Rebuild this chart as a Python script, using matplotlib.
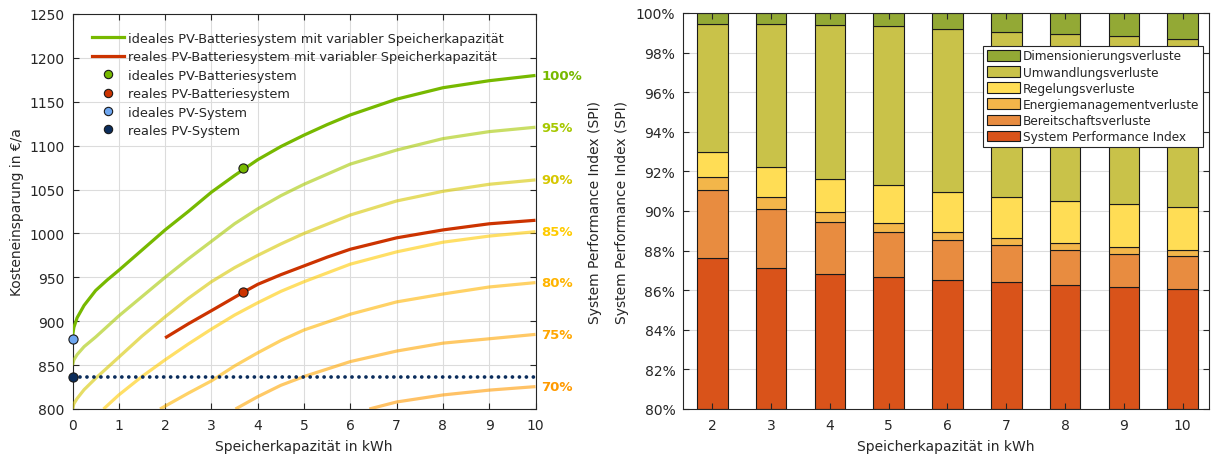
import matplotlib
matplotlib.use("Agg")
import matplotlib.pyplot as plt
from matplotlib.ticker import FuncFormatter
from matplotlib.patches import Patch
from matplotlib.lines import Line2D

plt.rcParams['font.family'] = ['DejaVu Sans']
AX = '#262626'

# ---------------- data: left chart ----------------
kap_100 = [0, 0.03, 0.1, 0.25, 0.5, 0.75, 1, 1.5, 2, 2.5, 3, 3.5, 4, 4.5, 5, 5.5, 6, 7, 8, 9, 10]
spar_100 = [883, 893, 904, 918, 935, 947, 958, 981, 1004, 1025, 1047, 1066, 1084, 1099, 1112, 1124, 1135, 1153, 1166, 1174, 1180]
kap_95 = [0, 0.03, 0.1, 0.25, 0.5, 1, 1.5, 2, 2.5, 3, 3.5, 4, 4.5, 5, 6, 7, 8, 9, 10]
spar_95 = [850, 856, 862, 871, 882, 906, 928, 950, 971, 991, 1011, 1028, 1043, 1056, 1079, 1095, 1108, 1116, 1121]
kap_90 = [0, 0.03, 0.1, 0.25, 0.5, 1, 1.5, 2, 2.5, 3, 3.5, 4, 4.5, 5, 6, 7, 8, 9, 10]
spar_90 = [800, 806, 812, 822, 835, 859, 883, 905, 926, 945, 961, 975, 988, 1000, 1021, 1037, 1048, 1056, 1061]
kap_85 = [0.67, 1, 1.5, 2, 2.5, 3, 3.5, 4, 4.5, 5, 6, 7, 8, 9, 10]
spar_85 = [800, 816, 837, 856, 874, 891, 907, 921, 934, 945, 965, 979, 990, 997, 1002]
kap_80 = [1.89, 2.5, 3, 3.5, 4, 4.5, 5, 6, 7, 8, 9, 10]
spar_80 = [800, 818, 832, 849, 864, 878, 890, 908, 922, 931, 939, 944]
kap_75 = [3.52, 4, 4.5, 5, 6, 7, 8, 9, 10]
spar_75 = [800, 814, 827, 837, 854, 866, 875, 880, 885]
kap_70 = [6.41, 7, 8, 9, 10]
spar_70 = [800, 808, 816, 821.5, 825.5]

kap_real = [2, 2.5, 3, 3.69, 4, 4.5, 5, 5.5, 6, 7, 8, 9, 10]
spar_real = [881, 897, 912, 933, 942, 953, 963, 973, 982, 995, 1004, 1011, 1015]

spi_labels = ['100%', '95%', '90%', '85%', '80%', '75%', '70%']
spi_colors = ['#77b900', '#a6c800', '#d6c700', '#ffcb00', '#ffb400', '#ffa600', '#ff9a00']

pt_ideal_batt = (3.69, 1074)
pt_real_batt = (3.69, 933.5)
pt_ideal_pv = (0, 880)
pt_real_pv = (0, 836.5)

# ---------------- data: right chart ----------------
kapazitaet = [2, 3, 4, 5, 6, 7, 8, 9, 10]
spi = [87.64, 87.14, 86.84, 86.67, 86.52, 86.40, 86.26, 86.16, 86.06]
top_bereitschaft = [91.04, 90.12, 89.43, 88.96, 88.55, 88.27, 88.02, 87.85, 87.71]
top_energiemgmt = [91.73, 90.71, 89.93, 89.41, 88.96, 88.62, 88.37, 88.16, 88.01]
top_regelung = [92.97, 92.22, 91.63, 91.29, 90.97, 90.72, 90.50, 90.34, 90.22]
top_umwandlung = [99.43, 99.43, 99.39, 99.33, 99.19, 99.04, 98.94, 98.82, 98.71]
top_dimension = [100, 100, 100, 100, 100, 100, 100, 100, 100]

seg_names = ['System Performance Index', 'Bereitschaftsverluste', 'Energiemanagementverluste',
             'Regelungsverluste', 'Umwandlungsverluste', 'Dimensionierungsverluste']
seg_colors = ['#d9531a', '#e88c40', '#f3b64a', '#ffdd55', '#c9c249', '#93a935']

# ---------------- figure ----------------
fig = plt.figure(figsize=(12.11, 4.56), dpi=100)
axL = fig.add_axes([72.5 / 1211, 46 / 456, 463 / 1211, 395 / 456])
axR = fig.add_axes([683 / 1211, 46 / 456, 526 / 1211, 396 / 456])

def style(ax):
    for s in ax.spines.values():
        s.set_color(AX)
        s.set_linewidth(0.8)
    ax.tick_params(direction='in', top=True, right=True, length=4, width=0.8,
                   colors=AX, labelsize=10, labelcolor=AX)
    ax.tick_params(axis='x', pad=6.5)
    ax.tick_params(axis='y', pad=5.5)

# left
style(axL)
axL.set_xlim(0, 10)
axL.set_ylim(800, 1250)
axL.set_xticks(range(0, 11))
axL.set_yticks(range(800, 1251, 50))
axL.grid(True, color='#dcdcdc', lw=0.8)
axL.set_axisbelow(True)

curves = [(kap_100, spar_100), (kap_95, spar_95), (kap_90, spar_90), (kap_85, spar_85),
          (kap_80, spar_80), (kap_75, spar_75), (kap_70, spar_70)]
for i, ((xs, ys), lab, col) in enumerate(zip(curves, spi_labels, spi_colors)):
    if i == 0:
        axL.plot(xs, ys, color=col, lw=2.3, solid_capstyle='butt', solid_joinstyle='round', zorder=4)
    else:
        axL.plot(xs, ys, color=col, lw=2.3, alpha=0.6, solid_capstyle='butt', solid_joinstyle='round', zorder=3)
    axL.text(1.013, (ys[-1] - 800) / 450, lab, transform=axL.transAxes, color=col,
             fontsize=9.5, fontweight='bold', ha='left', va='center')

axL.plot(kap_real, spar_real, color='#cc3300', lw=2.3, solid_capstyle='butt', solid_joinstyle='round', zorder=4)
axL.plot([0, 10], [pt_real_pv[1], pt_real_pv[1]], color='#0b2d5c', lw=2.7,
         linestyle=(0, (0.01, 1.85)), dash_capstyle='round', zorder=4)

mk = dict(marker='o', markersize=6.6, markeredgecolor='#1a1a1a', markeredgewidth=0.8,
          linestyle='none')
axL.plot(*pt_ideal_batt, markerfacecolor='#77b900', zorder=6, clip_on=False, **mk)
axL.plot(*pt_real_batt, markerfacecolor='#cc3300', zorder=6, clip_on=False, **mk)
axL.plot(*pt_ideal_pv, markerfacecolor='#6ea6f0', zorder=6, clip_on=False, **mk)
axL.plot(*pt_real_pv, markerfacecolor='#0b2d5c', zorder=6, clip_on=False, **mk)

handles = [Line2D([], [], color='#77b900', lw=2.3),
           Line2D([], [], color='#cc3300', lw=2.3)]
for c in ['#77b900', '#cc3300', '#6ea6f0', '#0b2d5c']:
    h = Line2D([], [], **mk)
    h.set_markerfacecolor(c)
    h.set_markersize(6)
    handles.append(h)
labels = ['ideales PV-Batteriesystem mit variabler Speicherkapazität',
          'reales PV-Batteriesystem mit variabler Speicherkapazität',
          'ideales PV-Batteriesystem', 'reales PV-Batteriesystem',
          'ideales PV-System', 'reales PV-System']
legL = axL.legend(handles, labels, loc='upper left', bbox_to_anchor=(0.031, 0.968), frameon=False,
                  fontsize=9.3, labelspacing=0.42, handlelength=2.5, handletextpad=0.3,
                  borderaxespad=0, labelcolor=AX)

axL.set_xlabel('Speicherkapazität in kWh', fontsize=10, color=AX, labelpad=5)
axL.set_ylabel('Kosteneinsparung in €/a', fontsize=10, color=AX)
axL.yaxis.set_label_coords(-0.104, 0.5)
axL.text(1.129, 0.5, 'System Performance Index (SPI)', transform=axL.transAxes,
         rotation=90, ha='center', va='center', fontsize=10, color=AX)

# right
style(axR)
axR.set_xlim(1.5, 10.45)
axR.set_ylim(80, 100)
axR.set_xticks(kapazitaet)
yt = list(range(80, 101, 2))
axR.set_yticks(yt)
axR.yaxis.set_major_formatter(FuncFormatter(lambda v, p: f'{v:.0f}%'))
for v in yt[1:-1]:
    axR.axhline(v, color='#dcdcdc', lw=0.8, zorder=0.5)
axR.set_axisbelow(False)

tops = [spi, top_bereitschaft, top_energiemgmt, top_regelung, top_umwandlung, top_dimension]
bottom = [80] * len(kapazitaet)
for t, name, col in zip(tops, seg_names, seg_colors):
    h = [a - b for a, b in zip(t, bottom)]
    axR.bar(kapazitaet, h, bottom=bottom, width=0.52, color=col, edgecolor='#1a1a1a',
            linewidth=0.8, label=name, zorder=2)
    bottom = t

leg_handles = [Patch(facecolor=c, edgecolor='#1a1a1a', linewidth=0.8) for c in seg_colors][::-1]
legR = axR.legend(leg_handles, seg_names[::-1], loc='upper right', bbox_to_anchor=(0.989, 0.917),
                  fontsize=8.7, labelspacing=0.26, handlelength=2.7, handleheight=1.0,
                  handletextpad=0.3, borderpad=0.3, borderaxespad=0, fancybox=False,
                  framealpha=1, edgecolor=AX, labelcolor=AX)
legR.get_frame().set_linewidth(0.8)
legR.set_zorder(5)
axR.set_xlabel('Speicherkapazität in kWh', fontsize=10, color=AX, labelpad=5)
axR.set_ylabel('System Performance Index (SPI)', fontsize=10, color=AX)
axR.yaxis.set_label_coords(-0.103, 0.5)

fig.savefig('out.png', dpi=100)
